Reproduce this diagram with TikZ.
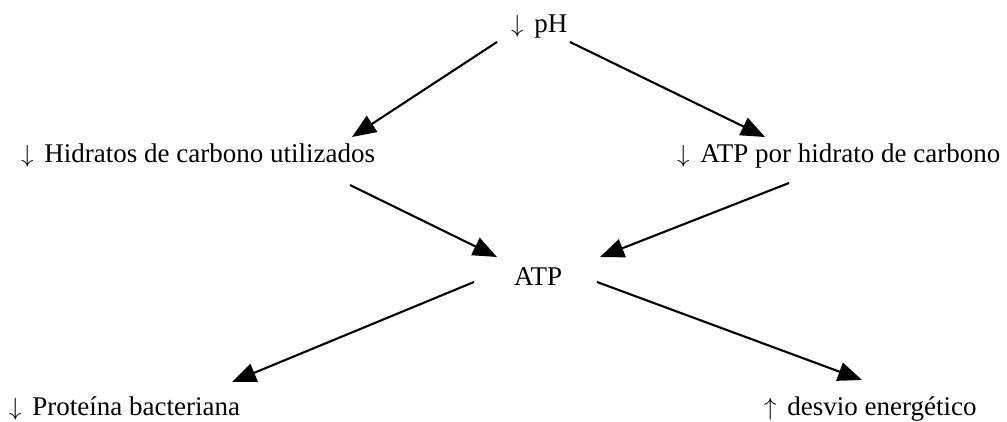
\documentclass[tikz,border=0pt]{standalone}
\usepackage{fontspec}
\setmainfont{Liberation Serif}
\usetikzlibrary{arrows.meta,calc}
\newcommand{\dnar}{$\downarrow$\hspace{0.4em}}
\newcommand{\upar}{$\uparrow$\hspace{0.4em}}
\begin{document}
\begin{tikzpicture}[x=1pt,y=-1pt,
  lbl/.style={anchor=base west,inner sep=0pt,font=\fontsize{27}{30}\selectfont},
  conn/.style={line width=2.1pt,-{Triangle[length=24pt,width=19pt]}}]
\useasboundingbox (0,0) rectangle (1007,422);
\node[lbl] (ph) at (511,33) {\dnar pH};
\node[lbl] (hid) at (21,163) {\dnar Hidratos de carbono utilizados};
\node[lbl] (atph) at (677,163) {\dnar ATP por hidrato de carbono};
\node[lbl] (atp) at (514,285) {ATP};
\node[lbl] (prot) at (9,415) {\dnar Proteína bacteriana};
\node[lbl] (des) at (764,415) {\upar desvio energético};
\draw[conn] ($(ph.base west)+(-14,9)$) -- ($(hid.base west)+(331,-26)$);
\draw[conn] ($(ph.base west)+(59,9)$) -- ($(atph.base west)+(88,-26)$);
\draw[conn] ($(hid.base west)+(329,22)$) -- ($(atp.base west)+(-17,-28)$);
\draw[conn] ($(atph.base west)+(112,20)$) -- ($(atp.base west)+(86,-28)$);
\draw[conn] ($(atp.base west)+(-40,-3)$) -- ($(prot.base west)+(223,-33)$);
\draw[conn] ($(atp.base west)+(83,-3)$) -- ($(des.base west)+(98,-35)$);
\end{tikzpicture}
\end{document}
